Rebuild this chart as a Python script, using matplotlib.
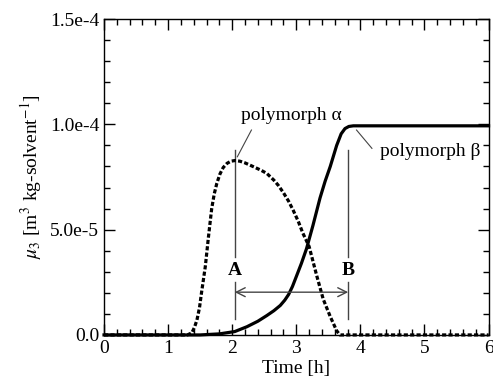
import numpy as np
import matplotlib.pyplot as plt
from matplotlib.ticker import MultipleLocator

plt.rcParams['font.family'] = 'Liberation Serif'
plt.rcParams['mathtext.fontset'] = 'stix'

# polymorph alpha (dotted) and beta (solid), mu3 in units of 1e-5
t_alpha = [0, 1.30, 1.37, 1.41, 1.45, 1.49, 1.52, 1.58, 1.63, 1.68, 1.72, 1.76, 1.81,
           1.86, 1.92, 1.98, 2.04, 2.12, 2.20, 2.33, 2.45, 2.54, 2.65, 2.72, 2.80,
           2.88, 2.95, 3.03, 3.10, 3.20, 3.32, 3.42, 3.53, 3.63, 3.68, 6.0]
mu_alpha = [0, 0, 0.1, 0.35, 0.71, 1.3, 1.98, 3.24, 4.67, 6.0, 6.7, 7.2, 7.65,
            7.95, 8.15, 8.25, 8.28, 8.25, 8.17, 7.99, 7.82, 7.67, 7.35, 7.1, 6.75,
            6.35, 5.93, 5.4, 4.85, 4.2, 2.8, 1.7, 0.87, 0.2, 0, 0]
t_beta = [0, 1.5, 1.8, 2.04, 2.23, 2.40, 2.54, 2.65, 2.75, 2.82, 2.88, 2.94, 3.0,
          3.08, 3.16, 3.26, 3.37, 3.45, 3.53, 3.63, 3.70, 3.76, 3.82, 3.89, 6.0]
mu_beta = [0, 0, 0.05, 0.16, 0.39, 0.65, 0.92, 1.15, 1.40, 1.65, 1.92, 2.3, 2.77,
           3.4, 4.1, 5.2, 6.5, 7.3, 8.0, 9.0, 9.55, 9.8, 9.9, 9.93, 9.93]

t_A = 2.04
t_B = 3.81
yticks = [0, 5e-5, 1e-4, 1.5e-4]
ytick_labels = ['0.0', '5.0e-5', '1.0e-4', '1.5e-4']

fig = plt.figure(figsize=(4.93, 3.89), dpi=100)
ax = fig.add_axes([0.211, 0.139, 0.780, 0.812])

ax.plot(t_alpha, np.array(mu_alpha) * 1e-5, color='black', lw=2.3,
        linestyle=(0, (1.3, 0.7)), clip_on=False, zorder=3)
ax.plot(t_beta, np.array(mu_beta) * 1e-5, color='black', lw=2.3,
        clip_on=False, zorder=3)

gray = '#444444'
for t, lab in [(t_A, 'A'), (t_B, 'B')]:
    ax.plot([t, t], [3.7e-5, 8.78e-5], color=gray, lw=1)
    ax.plot([t, t], [0.76e-5, 2.5e-5], color=gray, lw=1)
    ax.text(t, 3.08e-5, lab, ha='center', va='center', fontsize=14, fontweight='bold')

ax.annotate('', xy=(t_A, 2.03e-5), xytext=(t_B, 2.03e-5),
            arrowprops=dict(arrowstyle='<->', color=gray, lw=1,
                            shrinkA=0, shrinkB=0, mutation_scale=16))

# labels with leader lines
ax.text(2.93, 1.04e-4, 'polymorph α', ha='center', va='center', fontsize=14)
ax.plot([2.30, 2.08], [9.73e-5, 8.46e-5], color=gray, lw=0.8)
ax.text(4.31, 8.73e-5, 'polymorph β', ha='left', va='center', fontsize=14)
ax.plot([4.18, 3.94], [8.86e-5, 9.73e-5], color=gray, lw=0.8)

ax.set_xlim(0, 6)
ax.set_ylim(0, 1.5e-4)
ax.set_yticks(yticks)
ax.set_yticklabels(ytick_labels)
ax.xaxis.set_minor_locator(MultipleLocator(0.2))
ax.yaxis.set_minor_locator(MultipleLocator(1e-5))
ax.tick_params(which='both', direction='in', top=True, right=True, labelsize=14)
ax.tick_params(which='major', length=8, width=1)
ax.tick_params(which='minor', length=4, width=1)
for s in ax.spines.values():
    s.set_linewidth(1)

ax.set_xlabel('Time [h]', fontsize=14, labelpad=2)
ax.set_ylabel(r'$\mu_3$ [m$^3$ kg-solvent$^{-1}$]', fontsize=14)

fig.savefig('out.png', dpi=100)
